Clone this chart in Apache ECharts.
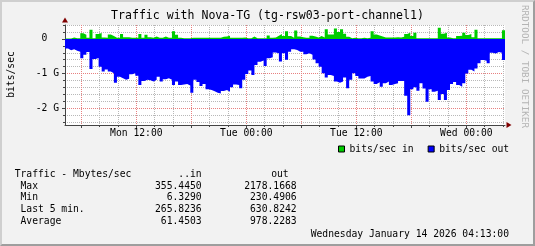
<!DOCTYPE html>
<html><head><meta charset="utf-8">
<script src="https://cdn.jsdelivr.net/npm/echarts@6/dist/echarts.min.js"></script>
<style>
html,body{margin:0;padding:0;background:#f2f2f2;}
#frame{position:absolute;left:0;top:0;width:535px;height:246px;box-sizing:border-box;background:#f2f2f2;
 border-top:2px solid #cfcfcf;border-left:2px solid #cfcfcf;border-right:2px solid #9e9e9e;border-bottom:2px solid #9e9e9e;}
#chart{position:absolute;left:0;top:0;width:535px;height:246px;}
</style></head><body>
<div id="frame"></div><div id="chart"></div>
<script>
const TITLE = 'Traffic with Nova-TG (tg-rsw03-port-channel1)';
const START_HOUR = 4 + 13 / 60;        // Mon 04:13, hours since Mon 00:00
const END_HOUR = 48 + 4 + 13 / 60;     // Wed 04:13
const STEP_HOURS = 1 / 3;              // 20-minute samples

// bits/sec in, in G (positive)
const inGbps = [
 0.01,0.01,0.04,0.02,0.02,0.16,0.12,0.03,0.26,0.02,
 0.14,0.17,0.04,0.03,0.13,0.08,0.03,0.03,0.14,0.05,
 0.05,0.03,0.03,0.03,0.14,0.03,0.12,0.05,0.03,0.07,
 0.03,0.03,0.07,0.03,0.03,0.22,
 0.12,0.03,0.02,0.02,0.02,0.03,0.03,0.03,0.03,0.03,
 0.03,0.03,0.03,0.03,0.03,0.06,0.07,0.09,0.03,0.03,
 0.03,0.03,0.04,0.02,0.02,0.07,0.02,0.02,0.02,0.02,
 0.10,0.03,0.04,0.09,0.14,0.08,
 0.22,0.08,0.03,0.24,0.07,0.05,0.03,0.03,0.09,0.07,
 0.04,0.08,0.04,0.28,0.13,0.13,0.30,0.20,0.28,0.15,
 0.06,0.02,0.03,0.02,0.02,0.03,0.02,0.03,0.22,0.13,
 0.10,0.07,0.04,0.04,0.04,0.04,
 0.05,0.04,0.06,0.14,0.18,0.08,0.18,0.02,0.02,0.02,
 0.02,0.02,0.02,0.02,0.32,0.15,0.18,0.04,0.02,0.02,
 0.08,0.09,0.18,0.11,0.14,0.05,0.26,0.02,0.02,0.02,
 0.02,0.02,0.02,0.02,0.02,0.25
];
// bits/sec out, in G (drawn negative)
const outGbps = [
 -0.28,-0.33,-0.30,-0.34,-0.37,-0.56,-0.46,-0.38,-0.87,-0.58,
 -0.55,-0.80,-0.94,-0.88,-0.94,-0.99,-1.26,-1.09,-1.13,-1.18,
 -1.15,-1.02,-0.99,-1.06,-1.33,-1.21,-1.18,-1.19,-1.23,-1.18,
 -1.09,-1.23,-1.16,-1.13,-1.18,-1.33,
 -1.23,-1.33,-1.31,-1.30,-1.34,-1.55,-1.18,-1.24,-1.36,-1.30,
 -1.45,-1.47,-1.51,-1.55,-1.57,-1.50,-1.47,-1.52,-1.39,-1.31,
 -1.33,-1.42,-1.18,-1.01,-0.91,-1.04,-0.75,-0.66,-0.62,-0.78,
 -0.56,-0.53,-0.39,-0.41,-0.65,-0.41,
 -0.60,-0.37,-0.30,-0.32,-0.37,-0.37,-0.44,-0.41,-0.46,-0.59,
 -0.70,-0.80,-0.99,-1.11,-1.04,-1.07,-1.23,-1.26,-1.23,-1.11,
 -1.42,-1.18,-0.99,-1.07,-1.14,-1.14,-1.09,-1.07,-1.23,-1.30,
 -1.25,-1.38,-1.28,-1.23,-1.33,-1.30,
 -1.28,-1.21,-1.21,-1.64,-2.20,-1.45,-1.39,-1.49,-1.28,-1.43,
 -1.81,-1.45,-1.52,-1.49,-1.76,-1.59,-1.76,-1.47,-1.30,-1.24,
 -1.33,-1.38,-1.28,-1.00,-0.89,-0.94,-0.85,-0.70,-0.61,-0.63,
 -0.70,-0.40,-0.42,-0.38,-0.40,-0.61
];

const xMinorTicks = [8,10,14,16,20,22,26,28,32,34,38,40,44,46,50,52];
const xMajorTicks = [6,12,18,24,30,36,42,48];
const xLabelHours = [12,24,36,48];
const xLabelTexts = ['Mon 12:00','Tue 00:00','Tue 12:00','Wed 00:00'];
const yMinorTicks = [-2.4,-2.2,-1.8,-1.6,-1.4,-1.2,-0.8,-0.6,-0.4,-0.2,0.2,0.4];
const yMajorTicks = [-2,-1,0];
const yLabelTexts = ['-2 G','-1 G','0  '];

const legendNames = ['bits/sec in','bits/sec out'];
const statHeader = ['Traffic - Mbytes/sec','..in','out'];
const statRows = ['Max','Min','Last 5 min.','Average'];
const statIn = [355.4450, 6.3290, 265.8236, 61.4503];
const statOut = [2178.1668, 230.4906, 630.8242, 978.2283];
const TIMESTAMP = 'Wednesday January 14 2026 04:13:00';
const WATERMARK = 'RRDTOOL / TOBI OETIKER';

const MONO = '"DejaVu Sans Mono", monospace';
const GREEN = '#00cc00', BLUE = '#0000ff';

function toPoints(vals) {
  const pts = vals.map((v, i) => [START_HOUR + i * STEP_HOURS, v]);
  pts.push([END_HOUR, vals[vals.length - 1]]);
  return pts;
}
function lookup(keys, texts, v) {
  const i = keys.findIndex(k => Math.abs(k - v) < 1e-6);
  return i >= 0 ? texts[i] : '';
}

const font = (s) => s + 'px ' + MONO;
const graphics = [];
graphics.push({type:'text', style:{text:'bits/sec', x:11, y:74.5, font:font(9.7), fill:'#000', textAlign:'center', textVerticalAlign:'middle'}, rotation:Math.PI/2, originX:11, originY:74.5});
graphics.push({type:'text', style:{text:WATERMARK, x:524.7, y:66.5, font:font(9.3), fill:'#b4b4b4', textAlign:'center', textVerticalAlign:'middle'}, rotation:-Math.PI/2, originX:524.7, originY:66.5});
graphics.push({type:'text', style:{text:statHeader[0], x:14.7, y:174, font:font(9.7), fill:'#000', textAlign:'left', textVerticalAlign:'middle'}});
graphics.push({type:'text', style:{text:statHeader[1], x:201.7, y:174, font:font(9.7), fill:'#000', textAlign:'right', textVerticalAlign:'middle'}});
graphics.push({type:'text', style:{text:statHeader[2], x:288.7, y:174, font:font(9.7), fill:'#000', textAlign:'right', textVerticalAlign:'middle'}});
statRows.forEach((r, i) => {
  const y = 186 + i * 11.9;
  graphics.push({type:'text', style:{text:r, x:20.5, y, font:font(9.7), fill:'#000', textAlign:'left', textVerticalAlign:'middle'}});
  graphics.push({type:'text', style:{text:statIn[i].toFixed(4), x:201.7, y, font:font(9.7), fill:'#000', textAlign:'right', textVerticalAlign:'middle'}});
  graphics.push({type:'text', style:{text:statOut[i].toFixed(4), x:296.7, y, font:font(9.7), fill:'#000', textAlign:'right', textVerticalAlign:'middle'}});
});
graphics.push({type:'text', style:{text:TIMESTAMP, x:509, y:234, font:font(9.7), fill:'#000', textAlign:'right', textVerticalAlign:'middle'}});

const AXIS = '#444';
const labelFont = {fontFamily: MONO, fontSize: 9.7, color: '#000'};
const minorSplit = {show:true, lineStyle:{color:'#b8b8b8', width:1, type:[1,1]}};
const majorSplit = {show:true, lineStyle:{color:'#e88080', width:1, type:[1,1]}};

const chart = echarts.init(document.getElementById('chart'), null, {renderer:'canvas'});
chart.setOption({
  animation: false,
  backgroundColor: 'transparent',
  title: {text: TITLE, left: 'center', top: 10, padding: 0,
    textStyle: {fontFamily: MONO, fontSize: 11.55, fontWeight: 'normal', color: '#000'}},
  legend: {data: legendNames, left: 338, top: 144, padding: 0, itemWidth: 6, itemHeight: 6, itemGap: 14,
    icon: 'rect', selectedMode: false, itemStyle: {borderColor: '#000', borderWidth: 1},
    textStyle: labelFont},
  grid: {left: 65, top: 25, width: 440, height: 100, show: true, backgroundColor: '#ffffff', borderWidth: 0,
    containLabel: false, outerBoundsMode: 'none'},
  graphic: graphics,
  xAxis: [
    {type:'value', min:START_HOUR, max:END_HOUR, position:'bottom',
     axisLine:{show:true, onZero:false, lineStyle:{color:AXIS, width:1}},
     axisTick:{show:true, customValues:xMinorTicks, length:2, lineStyle:{color:AXIS}},
     axisLabel:{show:true, customValues:xLabelHours, margin:3, formatter:(v)=>lookup(xLabelHours, xLabelTexts, v), ...labelFont},
     splitLine: minorSplit},
    {type:'value', min:START_HOUR, max:END_HOUR, position:'bottom',
     axisLine:{show:true, onZero:false, symbol:['none','triangle'], symbolSize:[6,5], symbolOffset:[0,4], lineStyle:{color:'#800000', width:0}},
     axisTick:{show:true, customValues:xMajorTicks, length:3, lineStyle:{color:AXIS, width:1}},
     axisLabel:{show:false},
     splitLine: majorSplit}
  ],
  yAxis: [
    {type:'value', min:-2.48, max:0.4, position:'left',
     axisLine:{show:true, onZero:false, lineStyle:{color:AXIS, width:1}},
     axisTick:{show:true, customValues:yMinorTicks, length:2, lineStyle:{color:AXIS}},
     axisLabel:{show:true, customValues:yMajorTicks, margin:6, formatter:(v)=>lookup(yMajorTicks, yLabelTexts, v), ...labelFont},
     splitLine: minorSplit},
    {type:'value', min:-2.48, max:0.4, position:'left',
     axisLine:{show:true, onZero:false, symbol:['none','triangle'], symbolSize:[6,5], symbolOffset:[0,5], lineStyle:{color:'#800000', width:0}},
     axisTick:{show:true, customValues:yMajorTicks, length:3, lineStyle:{color:AXIS, width:1}},
     axisLabel:{show:false},
     splitLine: majorSplit}
  ],
  series: [
    {name: legendNames[0], type:'line', step:'end', xAxisIndex:0, yAxisIndex:0, data: toPoints(inGbps),
     symbol:'none', showSymbol:false, silent:true, color: GREEN, itemStyle:{color: GREEN},
     lineStyle:{width:0}, areaStyle:{color: GREEN, opacity:1}},
    {name: legendNames[1], type:'line', step:'end', xAxisIndex:0, yAxisIndex:0, data: toPoints(outGbps),
     symbol:'none', showSymbol:false, silent:true, color: BLUE, itemStyle:{color: BLUE},
     lineStyle:{width:0}, areaStyle:{color: BLUE, opacity:1}}
  ]
});
</script>
</body></html>
